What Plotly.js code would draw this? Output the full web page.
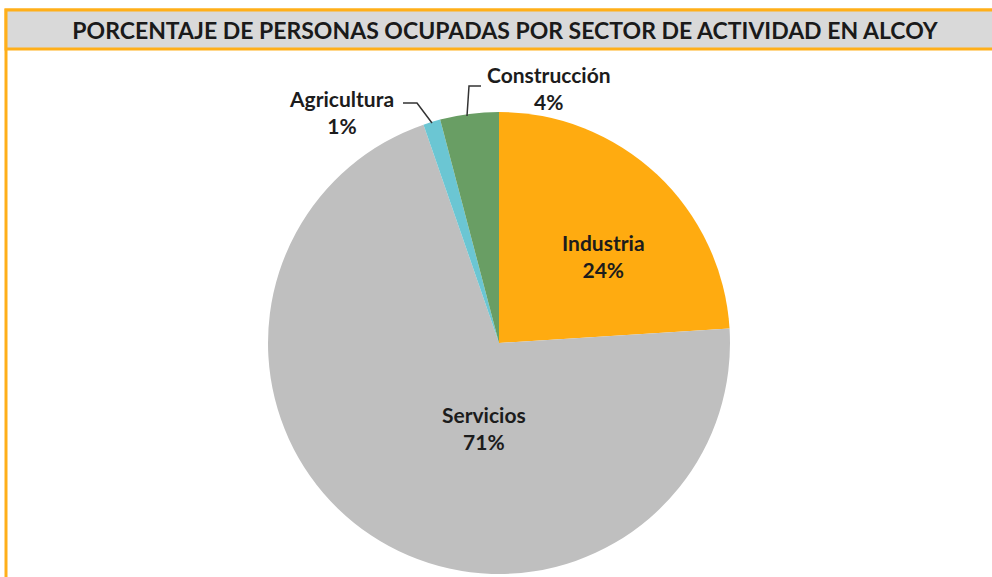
<!DOCTYPE html>
<html>
<head>
<meta charset="utf-8">
<script src="https://cdn.plot.ly/plotly-3.0.1.min.js"></script>
<style>
html,body{margin:0;padding:0;background:#fff;}
#chart{width:992px;height:577px;}
</style>
</head>
<body>
<div id="chart"></div>
<script>
const sectors = ['Industria', 'Servicios', 'Agricultura', 'Construcción'];
const shares = [24.0, 70.7, 1.2, 4.1];
const sliceColors = ['#FFAB10', '#BFBFBF', '#6BC6D3', '#699E64'];
const chartTitle = 'PORCENTAJE DE PERSONAS OCUPADAS POR SECTOR DE ACTIVIDAD EN ALCOY';

const total = shares.reduce((a, b) => a + b, 0);
const pctText = shares.map(v => Math.round(v / total * 100) + '%');
const textFont = {family: 'Lato, "Open Sans", sans-serif', size: 21, color: '#1c1c1c'};

const W = 992, H = 577;
const cx = 499, cy = 343, R = 231;
const px = x => x / W, py = y => 1 - y / H;

const trace = {
  type: 'pie',
  labels: sectors,
  values: shares,
  sort: false,
  direction: 'clockwise',
  rotation: 0,
  marker: {colors: sliceColors, line: {width: 0}},
  textinfo: 'none',
  textposition: 'none',
  hoverinfo: 'label+percent',
  showlegend: false,
  automargin: false,
  domain: {x: [px(cx - R), px(cx + R)], y: [py(cy + R), py(cy - R)]}
};

// label anchor positions (pixel centre of each two-line label)
const labelPos = [
  {x: 603, y: 256},
  {x: 484, y: 428},
  {x: 341, y: 112},
  {x: 549, y: 88}
];

const annotations = labelPos.map((o, i) => ({
  xref: 'paper', yref: 'paper',
  x: px(o.x), y: py(o.y),
  xanchor: 'center', yanchor: 'middle',
  text: '<b>' + sectors[i] + '<br>' + pctText[i] + '</b>',
  showarrow: false,
  font: textFont,
  align: 'center'
}));

const lineStyle = {color: '#333', width: 1.5};
const shapes = [
  {type: 'rect', xref: 'paper', yref: 'paper', x0: px(6), x1: px(1010), y0: py(600), y1: py(10),
   line: {color: '#FFAF1A', width: 3}, fillcolor: 'rgba(0,0,0,0)', layer: 'below'},
  {type: 'rect', xref: 'paper', yref: 'paper', x0: px(6), x1: px(1010), y0: py(49), y1: py(10),
   line: {color: '#FFAF1A', width: 3}, fillcolor: '#D9D9D9', layer: 'below'},
  {type: 'path', xref: 'paper', yref: 'paper', layer: 'above',
   path: `M ${px(403)} ${py(103)} L ${px(417)} ${py(103)} L ${px(432)} ${py(123)}`, line: lineStyle},
  {type: 'path', xref: 'paper', yref: 'paper', layer: 'above',
   path: `M ${px(481)} ${py(86)} L ${px(469)} ${py(86)} L ${px(467)} ${py(116)}`, line: lineStyle}
];

const layout = {
  width: W, height: H,
  margin: {l: 0, r: 0, t: 0, b: 0},
  paper_bgcolor: '#fff',
  title: {
    text: '<b>' + chartTitle + '</b>',
    x: px(505), xanchor: 'center',
    y: py(31), yanchor: 'middle',
    font: {family: 'Lato, "Open Sans", sans-serif', size: 23, color: '#1a1a1a'}
  },
  shapes: shapes,
  annotations: annotations
};

Plotly.newPlot('chart', [trace], layout, {displayModeBar: false});
</script>
</body>
</html>
